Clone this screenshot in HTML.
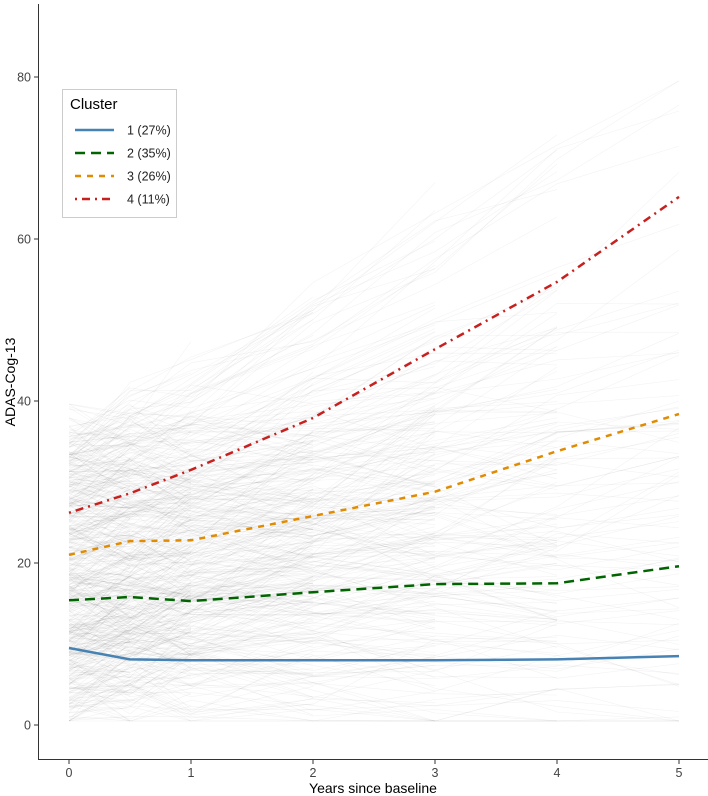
<!DOCTYPE html>
<html><head><meta charset="utf-8"><style>
body{margin:0;background:#fff;}
svg{display:block;font-family:"Liberation Sans",sans-serif;}
</style></head><body>
<svg id="chart" width="708" height="796">
<g id="bg"></g>
<g id="series"></g>
<g id="axes"></g>
<g id="legend"></g>
</svg>
<script>
const timePoints = [0, 0.5, 1, 2, 3, 4, 5];
const cluster1 = [9.5, 8.1, 8.0, 8.0, 8.0, 8.1, 8.5];
const cluster2 = [15.4, 15.8, 15.3, 16.4, 17.4, 17.5, 19.6];
const cluster3 = [21.0, 22.7, 22.8, 25.8, 28.8, 33.8, 38.4];
const cluster4 = [26.2, 28.6, 31.5, 37.9, 46.4, 54.7, 65.2];
const clusterLabels = ["1 (27%)", "2 (35%)", "3 (26%)", "4 (11%)"];
const xTicks = [0, 1, 2, 3, 4, 5];
const yTicks = [0, 20, 40, 60, 80];

const NS = "http://www.w3.org/2000/svg";
const xs = v => 69 + v * 122;
const ys = v => 725 - v * 8.1;
function mk(tag, attrs, parent){const e=document.createElementNS(NS,tag);for(const k in attrs)e.setAttribute(k,attrs[k]);parent.appendChild(e);return e;}

// decorative background spaghetti (texture only)
const bg = document.getElementById('bg');
let seed = 12345;
function rnd(){seed=(seed*16807)%2147483647;return seed/2147483647;}
for(let i=0;i<600;i++){
  let base = 1 + rnd()*36;
  const slope = Math.pow(rnd(),2.2)*11*(rnd()<0.8?1:-0.4);
  const nPts = 2 + Math.floor(rnd()*6);
  let pts=[];
  for(let j=0;j<Math.min(nPts,timePoints.length);j++){
    const t=timePoints[j];
    let v=base+slope*t+(rnd()-0.5)*7;
    v=Math.max(0.5,Math.min(85,v));
    pts.push(xs(t).toFixed(1)+","+ys(v).toFixed(1));
  }
  const p = mk('polyline',{points:pts.join(' '),fill:'none',stroke:'#000','stroke-opacity':0.05,'stroke-width':0.6},bg);
  
  
}

const styles = [
  {color:'#4682b4',dash:''},
  {color:'#006400',dash:'10,6'},
  {color:'#e08b00',dash:'6,6'},
  {color:'#c8201e',dash:'2,5,8,5'}
];
const seriesData=[cluster1,cluster2,cluster3,cluster4];
const sg=document.getElementById('series');
seriesData.forEach((d,i)=>{
  const pts=d.map((v,j)=>xs(timePoints[j]).toFixed(1)+","+ys(v).toFixed(1)).join(' ');
  const l=mk('polyline',{points:pts,fill:'none',stroke:styles[i].color,'stroke-width':2.5,'stroke-dasharray':styles[i].dash},sg);
  
  
});

// axes
const ax=document.getElementById('axes');
mk('line',{x1:38.5,y1:4,x2:38.5,y2:760,stroke:'#333','stroke-width':1},ax);
mk('line',{x1:38,y1:759.5,x2:708,y2:759.5,stroke:'#333','stroke-width':1},ax);
yTicks.forEach(v=>{
  mk('line',{x1:34,x2:38,y1:ys(v),y2:ys(v),stroke:'#333'},ax);
  const t=mk('text',{x:31,y:ys(v)+4.5,'text-anchor':'end','font-size':12.5,fill:'#444'},ax);
  t.textContent=v;
  
  
});
xTicks.forEach(v=>{
  mk('line',{x1:xs(v),x2:xs(v),y1:760,y2:764,stroke:'#333'},ax);
  const t=mk('text',{x:xs(v),y:777,'text-anchor':'middle','font-size':12.5,fill:'#444'},ax);
  t.textContent=v;
  
  
});
const xt=mk('text',{x:373,y:793,'text-anchor':'middle','font-size':14,fill:'#000'},ax);
xt.textContent='Years since baseline';


const yt=mk('text',{x:0,y:0,transform:'translate(15,382) rotate(-90)','text-anchor':'middle','font-size':14,fill:'#000'},ax);
yt.textContent='ADAS-Cog-13';



// legend
const lg=document.getElementById('legend');
mk('rect',{x:62.5,y:89.5,width:114,height:128,fill:'#fff',stroke:'#ccc'},lg);
const lt=mk('text',{x:70,y:109,'font-size':15,fill:'#000'},lg);
lt.textContent='Cluster';


clusterLabels.forEach((lab,i)=>{
  const y=130+i*23;
  const l=mk('line',{x1:75,x2:114,y1:y,y2:y,stroke:styles[i].color,'stroke-width':2.5,'stroke-dasharray':styles[i].dash},lg);
  
  
  const t=mk('text',{x:127,y:y+4.5,'font-size':12.5,fill:'#222'},lg);
  t.textContent=lab;
  
  
});
</script>
</body></html>
